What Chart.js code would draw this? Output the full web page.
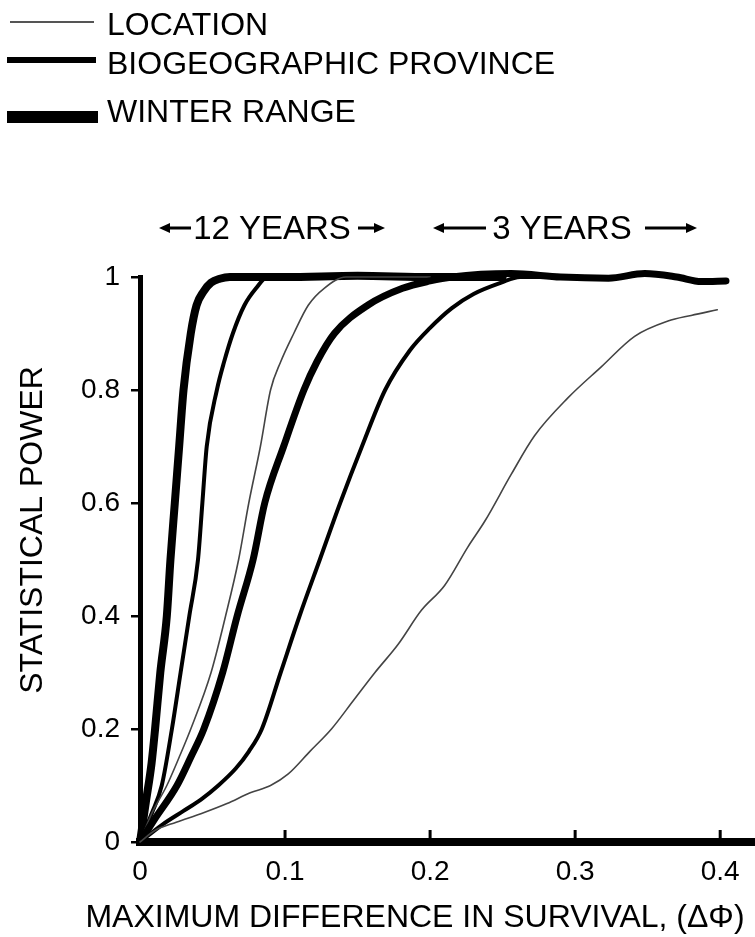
<!DOCTYPE html>
<html>
<head>
<meta charset="utf-8">
<script src="https://cdn.jsdelivr.net/npm/chart.js@4.4.1/dist/chart.umd.min.js"></script>
<style>
  html, body { margin: 0; padding: 0; background: #fff; }
  canvas { display: block; }
</style>
</head>
<body>
<canvas id="chart" width="755" height="937"></canvas>
<script>
// tick values / labels
const xTickValues = [0, 0.1, 0.2, 0.3, 0.4];
const xTickLabels = ["0", "0.1", "0.2", "0.3", "0.4"];
const yTickValues = [0, 0.2, 0.4, 0.6, 0.8, 1];
const yTickLabels = ["0", "0.2", "0.4", "0.6", "0.8", "1"];

// 12 years - winter range
const winter12X = [0, 0.004, 0.008, 0.0104, 0.014, 0.0185, 0.021, 0.024, 0.027, 0.030, 0.035, 0.039, 0.044, 0.049, 0.055, 0.062, 0.1, 0.15, 0.2, 0.25];
const winter12Y = [0, 0.07, 0.14, 0.2, 0.3, 0.4, 0.5, 0.6, 0.7, 0.8, 0.9, 0.95, 0.975, 0.99, 0.997, 1.0, 1.0, 1.002, 1.0, 1.0];
// 12 years - biogeographic province
const biogeo12X = [0, 0.008, 0.015, 0.022, 0.028, 0.034, 0.040, 0.043, 0.046, 0.053, 0.058, 0.064, 0.072, 0.080, 0.088, 0.1, 0.2];
const biogeo12Y = [0, 0.05, 0.1, 0.2, 0.3, 0.4, 0.5, 0.6, 0.7, 0.8, 0.85, 0.9, 0.95, 0.98, 1.0, 1.0, 1.0];
// 12 years - location
const location12X = [0, 0.008, 0.0185, 0.027, 0.035, 0.049, 0.059, 0.068, 0.075, 0.083, 0.090, 0.097, 0.106, 0.116, 0.127, 0.142, 0.2];
const location12Y = [0, 0.05, 0.1, 0.15, 0.2, 0.3, 0.4, 0.5, 0.6, 0.7, 0.8, 0.85, 0.9, 0.95, 0.98, 1.0, 1.0];
// 3 years - winter range
const winter3X = [0, 0.01, 0.0255, 0.035, 0.044, 0.057, 0.067, 0.078, 0.086, 0.099, 0.113, 0.122, 0.134, 0.157, 0.181, 0.2, 0.215, 0.256, 0.29, 0.323, 0.348, 0.37, 0.387, 0.404];
const winter3Y = [0, 0.04, 0.1, 0.15, 0.2, 0.3, 0.4, 0.5, 0.6, 0.7, 0.8, 0.85, 0.9, 0.95, 0.98, 0.993, 1.0, 1.006, 1.0, 0.998, 1.006, 1.0, 0.992, 0.993];
// 3 years - biogeographic province
const biogeo3X = [0, 0.015, 0.030, 0.042, 0.054, 0.066, 0.075, 0.084, 0.097, 0.110, 0.124, 0.138, 0.153, 0.169, 0.186, 0.2, 0.215, 0.23, 0.249, 0.262, 0.3];
const biogeo3Y = [0, 0.03, 0.055, 0.075, 0.1, 0.13, 0.16, 0.2, 0.3, 0.4, 0.5, 0.6, 0.7, 0.8, 0.87, 0.91, 0.945, 0.97, 0.99, 1.0, 1.0];
// 3 years - location
const location3X = [0, 0.01, 0.025, 0.042, 0.06, 0.076, 0.09, 0.102, 0.117, 0.132, 0.147, 0.162, 0.178, 0.194, 0.21, 0.226, 0.238, 0.256, 0.272, 0.295, 0.318, 0.341, 0.364, 0.38, 0.398];
const location3Y = [0, 0.02, 0.035, 0.05, 0.068, 0.087, 0.1, 0.12, 0.16, 0.2, 0.25, 0.3, 0.35, 0.41, 0.454, 0.522, 0.569, 0.651, 0.719, 0.786, 0.841, 0.895, 0.922, 0.932, 0.942];

const FONT = "'Liberation Sans', Arial, sans-serif";

function pts(xs, ys) {
  return xs.map((x, i) => ({ x: x, y: ys[i] }));
}

function series(xs, ys, width, color) {
  return {
    data: pts(xs, ys),
    borderColor: color,
    borderWidth: width,
    pointRadius: 0,
    fill: false,
    clip: false,
    cubicInterpolationMode: "monotone",
    borderCapStyle: "round",
    borderJoinStyle: "round"
  };
}

function arrow(ctx, x1, x2, y) {
  // line from x1 to x2, head at x2
  const dir = x2 > x1 ? 1 : -1;
  ctx.beginPath();
  ctx.moveTo(x1, y);
  ctx.lineTo(x2 - dir * 9, y);
  ctx.stroke();
  ctx.beginPath();
  ctx.moveTo(x2, y);
  ctx.lineTo(x2 - dir * 11, y - 5);
  ctx.lineTo(x2 - dir * 11, y + 5);
  ctx.closePath();
  ctx.fill();
}

const decor = {
  id: "decor",
  beforeDatasetsDraw(c) {
    const ctx = c.ctx;
    const xs = c.scales.x;
    const bottom = c.chartArea.bottom;
    ctx.save();
    // inward ticks on x axis
    ctx.strokeStyle = "#000";
    ctx.lineWidth = 3;
    xTickValues.forEach(v => {
      if (v === 0) return;
      const px = xs.getPixelForValue(v);
      ctx.beginPath();
      ctx.moveTo(px, bottom);
      ctx.lineTo(px, bottom - 12);
      ctx.stroke();
    });
    ctx.restore();
  },
  afterDraw(c) {
    const ctx = c.ctx;
    ctx.save();
    ctx.fillStyle = "#000";
    ctx.strokeStyle = "#000";

    // legend
    ctx.lineCap = "butt";
    ctx.strokeStyle = "#555";
    ctx.lineWidth = 2;
    ctx.beginPath(); ctx.moveTo(10, 22); ctx.lineTo(94, 22); ctx.stroke();
    ctx.strokeStyle = "#000";
    ctx.lineWidth = 6;
    ctx.beginPath(); ctx.moveTo(7, 60); ctx.lineTo(96, 60); ctx.stroke();
    ctx.lineWidth = 12;
    ctx.beginPath(); ctx.moveTo(7, 117); ctx.lineTo(98, 117); ctx.stroke();

    ctx.font = "32px " + FONT;
    ctx.textAlign = "left";
    ctx.textBaseline = "alphabetic";
    ctx.fillText("LOCATION", 107, 35);
    ctx.fillText("BIOGEOGRAPHIC PROVINCE", 107, 74);
    ctx.fillText("WINTER RANGE", 107, 122);

    // period labels with arrows
    ctx.font = "33px " + FONT;
    ctx.textAlign = "center";
    ctx.fillText("12 YEARS", 272, 239);
    ctx.fillText("3 YEARS", 562, 239);
    ctx.lineWidth = 3;
    arrow(ctx, 191, 159, 228);
    arrow(ctx, 358, 385, 228);
    arrow(ctx, 486, 433, 228);
    arrow(ctx, 645, 697, 228);

    // axis titles
    ctx.font = "32px " + FONT;
    ctx.fillText("MAXIMUM DIFFERENCE IN SURVIVAL, (\u0394\u03A6)", 415, 927);
    ctx.translate(42, 530);
    ctx.rotate(-Math.PI / 2);
    ctx.fillText("STATISTICAL POWER", 0, 0);
    ctx.restore();
  }
};

new Chart(document.getElementById("chart"), {
  type: "line",
  data: {
    datasets: [
      series(location3X, location3Y, 1.6, "#444"),
      series(biogeo3X, biogeo3Y, 4, "#000"),
      series(winter3X, winter3Y, 7, "#000"),
      series(location12X, location12Y, 1.6, "#444"),
      series(biogeo12X, biogeo12Y, 4, "#000"),
      series(winter12X, winter12Y, 8, "#000")
    ]
  },
  options: {
    responsive: false,
    devicePixelRatio: 1,
    animation: false,
    layout: { padding: { top: 277, left: 0, right: 0, bottom: 0 } },
    plugins: { legend: { display: false }, tooltip: { enabled: false } },
    scales: {
      x: {
        type: "linear",
        min: 0,
        max: 0.424,
        afterFit: s => { s.height = 95; },
        afterBuildTicks: s => { s.ticks = xTickValues.map(v => ({ value: v })); },
        ticks: {
          color: "#000",
          padding: 13,
          font: { family: FONT, size: 28 },
          maxRotation: 0,
          callback: (v, i) => xTickLabels[i]
        },
        grid: { drawOnChartArea: false, drawTicks: false },
        border: { color: "#000", width: 8 }
      },
      y: {
        type: "linear",
        min: 0,
        max: 1,
        afterFit: s => { s.width = 140; },
        afterBuildTicks: s => { s.ticks = yTickValues.map(v => ({ value: v })); },
        ticks: {
          color: "#000",
          padding: 11,
          font: { family: FONT, size: 28 },
          callback: (v, i) => yTickLabels[i]
        },
        grid: { drawOnChartArea: false, drawTicks: true, tickLength: 9, color: "#000", lineWidth: 2.5 },
        border: { color: "#000", width: 5 }
      }
    }
  },
  plugins: [decor]
});
</script>
</body>
</html>
